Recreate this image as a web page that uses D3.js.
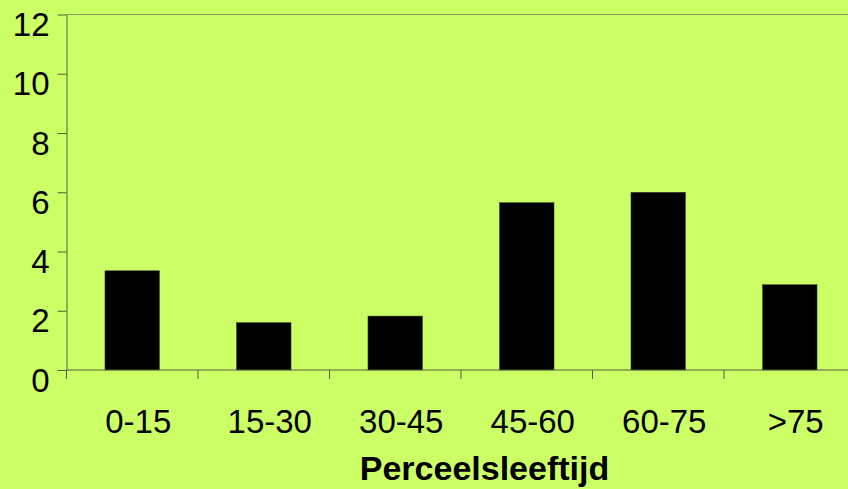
<!DOCTYPE html>
<html>
<head>
<meta charset="utf-8">
<script src="https://cdn.jsdelivr.net/npm/d3@7"></script>
<style>
  body { margin: 0; background: #ccff66; }
  svg { display: block; }
</style>
</head>
<body>
<svg id="drawing_region"></svg>
<script>
// leeftijdsklassen en aantallen
const categories = ["0-15", "15-30", "30-45", "45-60", "60-75", ">75"];
const values = [3.35, 1.6, 1.82, 5.65, 6.0, 2.88];
const yTicks = [0, 2, 4, 6, 8, 10, 12];
const xTitle = "Perceelsleeftijd";

var width = 848;
var height = 489;
var margin = {top: 14.5, right: -7.5, bottom: 119, left: 66.5};

var svg = d3.select('#drawing_region')
    .attr('width', width)
    .attr('height', height);

svg.append('rect')
    .attr('width', width)
    .attr('height', height)
    .attr('fill', '#ccff66');

const inner_width = width - margin.left - margin.right;
const inner_height = height - margin.top - margin.bottom;

const chart = svg.append('g')
    .attr('transform', `translate(${margin.left}, ${margin.top})`);

const xscale = d3.scaleBand()
    .domain(categories)
    .range([0, inner_width])
    .paddingInner(0.585)
    .paddingOuter(0.2925);

const xticks = d3.scaleBand()
    .domain(categories)
    .range([0, inner_width]);

const yscale = d3.scaleLinear()
    .domain([0, 12])
    .range([inner_height, 0]);

// bovenrand van het plotvlak
chart.append('line')
    .attr('x1', 0).attr('x2', inner_width)
    .attr('y1', yscale(12)).attr('y2', yscale(12))
    .attr('stroke', '#8a9a5a')
    .attr('stroke-width', 1);

// staven
chart.selectAll('.bar')
    .data(values)
    .enter().append('rect')
    .attr('class', 'bar')
    .attr('x', (d, i) => xscale(categories[i]))
    .attr('y', d => yscale(d))
    .attr('width', xscale.bandwidth())
    .attr('height', d => inner_height - yscale(d))
    .attr('fill', 'black')
    .attr('stroke', '#3a4a20')
    .attr('stroke-width', 0.5);

// y-as
const yaxis = d3.axisLeft(yscale)
    .tickValues(yTicks)
    .tickSize(9)
    .tickPadding(8)
    .tickSizeOuter(0);

const yaxis_group = chart.append('g').call(yaxis);
yaxis_group.select('.domain').attr('stroke', '#555e40');
yaxis_group.selectAll('.tick line').attr('stroke', '#555e40');
yaxis_group.selectAll('.tick text')
    .attr('font-family', 'Liberation Sans, Arial, sans-serif')
    .attr('font-size', 33)
    .attr('fill', 'black')
    .attr('dy', '0.64em');

// x-as met streepjes tussen de klassen
const xaxis_group = chart.append('g')
    .attr('transform', `translate(0, ${inner_height})`);

xaxis_group.append('line')
    .attr('x1', 0).attr('x2', inner_width)
    .attr('stroke', '#555e40');

xaxis_group.selectAll('.xtick')
    .data(categories)
    .enter().append('line')
    .attr('class', 'xtick')
    .attr('x1', d => xticks(d))
    .attr('x2', d => xticks(d))
    .attr('y1', 0).attr('y2', 9)
    .attr('stroke', '#555e40');

xaxis_group.selectAll('.xlabel')
    .data(categories)
    .enter().append('text')
    .attr('class', 'xlabel')
    .attr('x', d => xticks(d) + xticks.bandwidth() / 2 + 6)
    .attr('y', 63)
    .attr('text-anchor', 'middle')
    .attr('font-family', 'Liberation Sans, Arial, sans-serif')
    .attr('font-size', 33)
    .attr('fill', 'black')
    .text(d => d);

// astitel
svg.append('text')
    .attr('x', 484.5)
    .attr('y', 480)
    .attr('text-anchor', 'middle')
    .attr('font-family', 'Liberation Sans, Arial, sans-serif')
    .attr('font-size', 34)
    .attr('font-weight', 'bold')
    .attr('fill', 'black')
    .text(xTitle);
</script>
</body>
</html>
